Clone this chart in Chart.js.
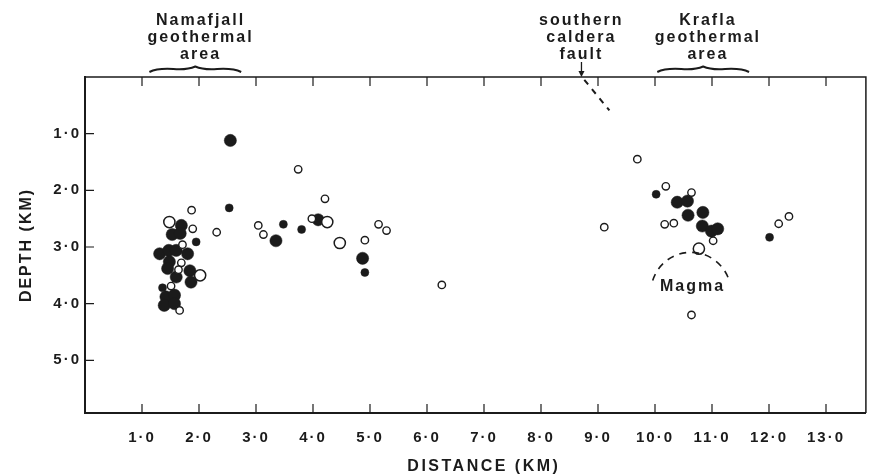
<!DOCTYPE html>
<html>
<head>
<meta charset="utf-8">
<script src="https://cdn.jsdelivr.net/npm/chart.js@4.4.1/dist/chart.umd.min.js"></script>
<style>
  html, body { margin: 0; padding: 0; background: #fff; }
</style>
</head>
<body>
<canvas id="quakeChart" width="873" height="476"></canvas>
<script>
// hypocentres along the profile: distance (km) and depth (km)
var bigFilledDist  = [1.69, 1.53, 1.67, 1.31, 1.47, 1.60, 1.80, 1.48, 1.45, 1.60, 1.84, 1.86, 1.42, 1.57, 1.39, 1.57, 2.55,
                      3.35, 4.09, 4.87,
                      10.39, 10.57, 10.58, 10.84, 10.83, 10.99, 11.10];
var bigFilledDepth = [2.62, 2.78, 2.76, 3.12, 3.06, 3.06, 3.12, 3.26, 3.38, 3.53, 3.42, 3.62, 3.88, 3.85, 4.03, 4.00, 1.12,
                      2.89, 2.52, 3.20,
                      2.21, 2.19, 2.44, 2.39, 2.63, 2.72, 2.68];

var smallFilledDist  = [1.95, 1.36, 2.53, 3.48, 3.80, 4.91, 10.02, 12.01];
var smallFilledDepth = [2.91, 3.72, 2.31, 2.60, 2.69, 3.45, 2.07, 2.83];

var bigOpenDist  = [1.48, 2.02, 4.25, 4.47, 10.77];
var bigOpenDepth = [2.56, 3.50, 2.56, 2.93, 3.03];

var smallOpenDist  = [1.87, 1.89, 2.31, 1.71, 1.69, 1.64, 1.51, 1.66,
                      3.74, 4.21, 3.04, 3.13, 3.98, 5.15, 5.29, 4.91, 6.26,
                      9.11, 9.69, 10.19, 10.64, 10.17, 10.33, 11.02, 10.64, 12.17, 12.35];
var smallOpenDepth = [2.35, 2.68, 2.74, 2.96, 3.28, 3.40, 3.69, 4.12,
                      1.63, 2.15, 2.62, 2.78, 2.50, 2.60, 2.71, 2.88, 3.67,
                      2.65, 1.45, 1.93, 2.04, 2.60, 2.58, 2.89, 4.20, 2.59, 2.46];

var xTickValues = [1, 2, 3, 4, 5, 6, 7, 8, 9, 10, 11, 12, 13];
var xTickLabels = ['1·0', '2·0', '3·0', '4·0', '5·0', '6·0', '7·0', '8·0', '9·0', '10·0', '11·0', '12·0', '13·0'];
var yTickValues = [1, 2, 3, 4, 5];
var yTickLabels = ['1·0', '2·0', '3·0', '4·0', '5·0'];

var namafjallNote = ['Namafjall', 'geothermal', 'area'];
var kraflaNote = ['Krafla', 'geothermal', 'area'];
var faultNote = ['southern', 'caldera', 'fault'];

function pairs(xs, ys) {
  return xs.map(function(x, i) { return {x: x, y: ys[i]}; });
}

function tickText(values, labels) {
  return function(v) {
    var i = values.indexOf(Math.round(v * 1000) / 1000);
    return i >= 0 ? labels[i] : '';
  };
}

var FONT = '"Liberation Sans", Arial, sans-serif';
var INK = '#1b1b1b';

// braces, text, frame, inward ticks
var sketchPlugin = {
  id: 'sketch',
  beforeDraw: function(chart) {
    chart.ctx.letterSpacing = '2px';
  },
  afterDraw: function(chart) {
    var ctx = chart.ctx, a = chart.chartArea;
    var xs = chart.scales.x, ys = chart.scales.y;
    ctx.save();
    ctx.strokeStyle = INK;
    ctx.fillStyle = INK;

    ctx.lineWidth = 1.5;
    ctx.beginPath();
    ctx.moveTo(a.left, a.top);
    ctx.lineTo(a.right, a.top);
    ctx.lineTo(a.right, a.bottom);
    ctx.stroke();

    ctx.lineWidth = 1.2;
    ctx.beginPath();
    xTickValues.forEach(function(v) {
      var px = xs.getPixelForValue(v);
      ctx.moveTo(px, a.bottom); ctx.lineTo(px, a.bottom - 9);
      ctx.moveTo(px, a.top); ctx.lineTo(px, a.top + 9);
    });
    yTickValues.forEach(function(v) {
      var py = ys.getPixelForValue(v);
      ctx.moveTo(a.left, py); ctx.lineTo(a.left + 9, py);
    });
    ctx.stroke();

    // notes above the frame
    ctx.font = 'bold 16px ' + FONT;
    ctx.textAlign = 'center';
    ctx.textBaseline = 'alphabetic';
    function note(lines, km) {
      var px = xs.getPixelForValue(km) + 1;
      lines.forEach(function(t, i) { ctx.fillText(t, px, a.top - 52 + i * 17); });
    }
    note(namafjallNote, 2.01);
    note(kraflaNote, 10.91);
    note(faultNote, 8.69);

    function brace(k0, k1) {
      var x0 = xs.getPixelForValue(k0), x1 = xs.getPixelForValue(k1);
      var xm = (x0 + x1) / 2, y = a.top - 7;
      ctx.lineWidth = 2;
      ctx.beginPath();
      ctx.moveTo(x0, y + 2);
      ctx.quadraticCurveTo(x0 + 8, y - 2, x0 + 24, y - 1);
      ctx.quadraticCurveTo(xm - 8, y, xm, y - 3.5);
      ctx.quadraticCurveTo(xm + 8, y, x1 - 24, y - 1);
      ctx.quadraticCurveTo(x1 - 8, y - 2, x1, y + 2);
      ctx.stroke();
    }
    brace(1.13, 2.74);
    brace(10.04, 11.65);

    // caldera fault arrow and trace
    var fx = xs.getPixelForValue(8.71);
    ctx.lineWidth = 1.3;
    ctx.beginPath();
    ctx.moveTo(fx, a.top - 15);
    ctx.lineTo(fx, a.top - 4);
    ctx.stroke();
    ctx.beginPath();
    ctx.moveTo(fx - 3, a.top - 6);
    ctx.lineTo(fx + 3, a.top - 6);
    ctx.lineTo(fx, a.top);
    ctx.closePath();
    ctx.fill();
    ctx.lineWidth = 2;
    ctx.setLineDash([6, 6]);
    ctx.beginPath();
    ctx.moveTo(xs.getPixelForValue(8.76), ys.getPixelForValue(0.05));
    ctx.lineTo(xs.getPixelForValue(9.2), ys.getPixelForValue(0.59));
    ctx.stroke();

    // magma body
    var mx = xs.getPixelForValue(10.63), my = ys.getPixelForValue(3.80);
    ctx.lineWidth = 1.6;
    ctx.setLineDash([7, 6]);
    ctx.beginPath();
    ctx.arc(mx, my, 40, Math.PI + 0.3, 2 * Math.PI - 0.3);
    ctx.stroke();
    ctx.setLineDash([]);
    ctx.fillText('Magma', xs.getPixelForValue(10.64) + 1, ys.getPixelForValue(3.78));

    // horizontal axis title
    ctx.letterSpacing = '2.5px';
    ctx.fillText('DISTANCE (KM)', xs.getPixelForValue(6.98) + 1, a.bottom + 58);
    ctx.restore();
  }
};

var ctx = document.getElementById('quakeChart').getContext('2d');

var quakeChart = new Chart(ctx, {
  type: 'scatter',
  data: {
    datasets: [
      {label: 'small open', data: pairs(smallOpenDist, smallOpenDepth), order: 1,
       pointRadius: 3.7, backgroundColor: '#fff', borderColor: INK, borderWidth: 1.4},
      {label: 'large open', data: pairs(bigOpenDist, bigOpenDepth), order: 2,
       pointRadius: 5.6, backgroundColor: '#fff', borderColor: INK, borderWidth: 1.5},
      {label: 'small filled', data: pairs(smallFilledDist, smallFilledDepth), order: 3,
       pointRadius: 4, backgroundColor: INK, borderColor: INK, borderWidth: 0.5},
      {label: 'large filled', data: pairs(bigFilledDist, bigFilledDepth), order: 4,
       pointRadius: 6.1, backgroundColor: INK, borderColor: INK, borderWidth: 0.5}
    ]
  },
  options: {
    responsive: false,
    animation: false,
    devicePixelRatio: 1,
    layout: {padding: {top: 77, right: 6, left: 0, bottom: 0}},
    plugins: {legend: {display: false}, tooltip: {enabled: false}},
    scales: {
      x: {
        type: 'linear', min: 0, max: 13.7,
        afterFit: function(s) { s.height = 63; s.paddingLeft = 0; s.paddingRight = 0; },
        grid: {display: false, drawTicks: false},
        border: {display: true, color: INK, width: 2},
        ticks: {stepSize: 1, includeBounds: false, autoSkip: false, maxRotation: 0, padding: 16, color: INK,
                font: {family: FONT, size: 15, weight: 'bold'},
                callback: tickText(xTickValues, xTickLabels)}
      },
      y: {
        type: 'linear', min: 0, max: 5.93, reverse: true,
        afterFit: function(s) { s.width = 85; s.paddingTop = 0; s.paddingBottom = 0; },
        grid: {display: false, drawTicks: false},
        border: {display: true, color: INK, width: 2},
        ticks: {stepSize: 1, includeBounds: false, autoSkip: false, padding: 4, color: INK,
                font: {family: FONT, size: 15, weight: 'bold'},
                callback: tickText(yTickValues, yTickLabels)},
        title: {display: true, text: 'DEPTH (KM)', color: INK, padding: {top: 17, bottom: 0},
                font: {family: FONT, size: 16, weight: 'bold'}}
      }
    }
  },
  plugins: [sketchPlugin]
});
</script>
</body>
</html>
